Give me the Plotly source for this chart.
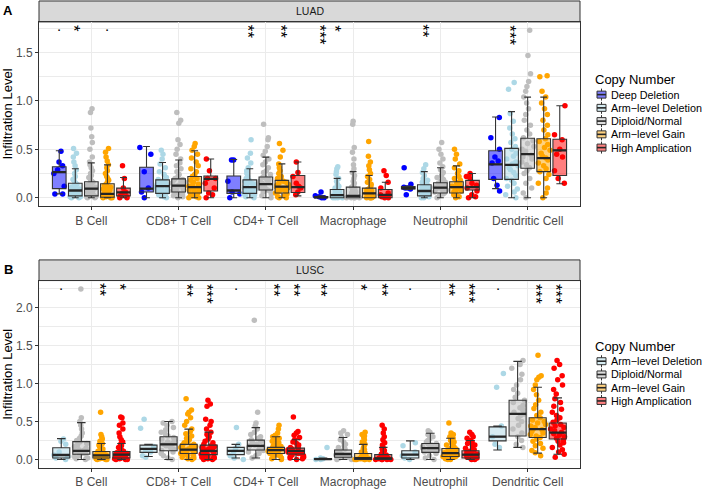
import plotly.graph_objects as go

# ---------------- data ----------------
CELLS = ["B Cell", "CD8+ T Cell", "CD4+ T Cell", "Macrophage", "Neutrophil", "Dendritic Cell"]
LUAD_GROUPS = ["Deep Deletion", "Arm\u2212level Deletion", "Diploid/Normal", "Arm\u2212level Gain", "High Amplication"]
LUSC_GROUPS = ["Arm\u2212level Deletion", "Diploid/Normal", "Arm\u2212level Gain", "High Amplication"]
GROUP_COLORS = {"Deep Deletion": "#0000FF", "Arm\u2212level Deletion": "#ADD8E6",
                "Diploid/Normal": "#BEBEBE", "Arm\u2212level Gain": "#FFA500",
                "High Amplication": "#FF0000"}

# box statistics per cell: (lower whisker, q1, median, q3, upper whisker)
LUAD_DEEP_BOX = [(.04, .095, .265, .32, .485), (0, .06, .095, .315, .53), (0, .045, .075, .225, .395),
                 (0, 0, .005, .012, .02), (.085, .09, .10, .115, .12), (.095, .19, .345, .485, .835)]
LUAD_ARMDEL_BOX = [(0, .02, .075, .15, .30), (0, .045, .12, .185, .365), (0, .045, .11, .185, .30),
                   (0, 0, .027, .085, .20), (0, .02, .07, .135, .27), (0, .19, .34, .51, .89)]
LUAD_DIPLOID_BOX = [(0, .02, .095, .165, .36), (0, .06, .125, .195, .39), (0, .08, .14, .215, .42),
                    (0, 0, .02, .11, .27), (0, .05, .105, .155, .31), (0, .305, .45, .615, 1.04)]
LUAD_GAIN_BOX = [(0, .005, .04, .145, .34), (0, .05, .11, .22, .485), (0, .05, .115, .18, .35),
                 (0, 0, .045, .10, .23), (0, .05, .11, .165, .33), (0, .27, .41, .61, 1.04)]
LUAD_HIGH_BOX = [(0, .02, .055, .10, .21), (0, .07, .195, .225, .40), (.02, .055, .11, .23, .37),
                 (0, 0, .03, .085, .16), (0, .08, .11, .18, .25), (.145, .23, .49, .605, .95)]

LUSC_ARMDEL_BOX = [(0, .02, .06, .155, .275), (.04, .095, .14, .19, .20), (.02, .065, .115, .16, .20),
                   (0, 0, .005, .012, .02), (0, .02, .065, .115, .245), (.125, .245, .30, .43, .44)]
LUSC_DIPLOID_BOX = [(0, .07, .115, .235, .485), (0, .115, .20, .30, .50), (.02, .125, .18, .255, .42),
                    (0, .03, .073, .125, .29), (0, .095, .15, .21, .345), (.16, .31, .60, .78, 1.29)]
LUSC_GAIN_BOX = [(0, .02, .055, .105, .21), (0, .08, .13, .20, .40), (0, .08, .125, .16, .30),
                 (0, 0, .02, .08, .20), (0, .04, .085, .145, .28), (.085, .29, .40, .55, .95)]
LUSC_HIGH_BOX = [(0, .02, .065, .105, .21), (0, .065, .115, .19, .36), (0, .073, .115, .15, .26),
                 (0, 0, .015, .065, .16), (0, .02, .065, .115, .25), (.07, .27, .355, .48, .81)]

# sample points per cell
LUAD_DEEP_PTS = [
    [0.04, 0.04, 0.12, 0.25, 0.29, 0.33, 0.37, 0.48],
    [0.0, 0.06, 0.1, 0.27, 0.45, 0.52],
    [0.0, 0.04, 0.06, 0.17, 0.39, 0.39],
    [0.0, 0.0, 0.01, 0.02, 0.06],
    [0.03, 0.09, 0.10, 0.10, 0.11, 0.14, 0.31],
    [0.07, 0.13, 0.2, 0.36, 0.38, 0.42, 0.5, 0.62, 0.83]]
LUAD_ARMDEL_PTS = [
    [0.0, 0.0, 0.01, 0.01, 0.02, 0.02, 0.03, 0.03, 0.04, 0.05, 0.05, 0.06, 0.07, 0.07, 0.08, 0.09, 0.1, 0.11,
     0.12, 0.13, 0.14, 0.15, 0.17, 0.19, 0.22, 0.25, 0.29, 0.33, 0.37, 0.42, 0.46, 0.51],
    [0.0, 0.01, 0.02, 0.03, 0.04, 0.05, 0.06, 0.07, 0.08, 0.09, 0.1, 0.11, 0.12, 0.12, 0.13, 0.14, 0.15, 0.16,
     0.17, 0.18, 0.19, 0.21, 0.24, 0.27, 0.31, 0.35, 0.4, 0.45, 0.49],
    [0.0, 0.01, 0.02, 0.03, 0.04, 0.05, 0.06, 0.07, 0.08, 0.09, 0.1, 0.11, 0.11, 0.12, 0.13, 0.14, 0.15, 0.16,
     0.17, 0.18, 0.2, 0.22, 0.25, 0.28, 0.31, 0.36, 0.41, 0.46, 0.6],
    [0.0, 0.0, 0.0, 0.0, 0.01, 0.01, 0.01, 0.02, 0.02, 0.03, 0.03, 0.04, 0.05, 0.06, 0.07, 0.08, 0.09, 0.1,
     0.12, 0.14, 0.17, 0.2, 0.24, 0.27, 0.3, 0.32],
    [0.0, 0.0, 0.01, 0.01, 0.02, 0.03, 0.04, 0.05, 0.06, 0.07, 0.07, 0.08, 0.09, 0.1, 0.11, 0.12, 0.13, 0.14,
     0.16, 0.18, 0.2, 0.23, 0.26, 0.3, 0.34],
    [0.0, 0.03, 0.06, 0.09, 0.12, 0.15, 0.18, 0.2, 0.23, 0.26, 0.29, 0.31, 0.33, 0.35, 0.37, 0.4, 0.43, 0.46,
     0.5, 0.53, 0.57, 0.61, 0.66, 0.72, 0.79, 0.87, 1.12, 1.19]]
LUAD_DIPLOID_PTS = [
    [0.0, 0.0, 0.01, 0.01, 0.02, 0.02, 0.03, 0.04, 0.05, 0.06, 0.07, 0.08, 0.09, 0.1, 0.1, 0.11, 0.12, 0.13,
     0.14, 0.15, 0.16, 0.17, 0.19, 0.21, 0.23, 0.25, 0.28, 0.31, 0.34, 0.37, 0.42, 0.5, 0.57, 0.63, 0.72, 0.88, 0.92],
    [0.0, 0.01, 0.02, 0.04, 0.05, 0.06, 0.07, 0.08, 0.09, 0.1, 0.11, 0.12, 0.12, 0.13, 0.14, 0.15, 0.16, 0.17,
     0.18, 0.19, 0.2, 0.22, 0.24, 0.27, 0.3, 0.33, 0.36, 0.4, 0.45, 0.5, 0.55, 0.6, 0.77, 0.8, 0.88],
    [0.0, 0.02, 0.04, 0.06, 0.07, 0.08, 0.09, 0.1, 0.11, 0.12, 0.13, 0.14, 0.14, 0.15, 0.16, 0.17, 0.18, 0.19,
     0.2, 0.21, 0.22, 0.24, 0.26, 0.28, 0.31, 0.34, 0.37, 0.4, 0.44, 0.48, 0.53, 0.6, 0.62, 0.76],
    [0.0, 0.0, 0.0, 0.0, 0.0, 0.01, 0.01, 0.01, 0.02, 0.02, 0.03, 0.04, 0.05, 0.06, 0.07, 0.08, 0.09, 0.1,
     0.11, 0.13, 0.15, 0.17, 0.2, 0.23, 0.26, 0.3, 0.34, 0.4, 0.47, 0.52, 0.76, 0.79],
    [0.0, 0.02, 0.04, 0.05, 0.06, 0.07, 0.08, 0.09, 0.1, 0.1, 0.11, 0.12, 0.13, 0.14, 0.15, 0.16, 0.17, 0.19,
     0.21, 0.23, 0.26, 0.29, 0.32, 0.36, 0.4, 0.45, 0.5, 0.57],
    [0.0, 0.05, 0.1, 0.15, 0.2, 0.25, 0.28, 0.31, 0.34, 0.37, 0.4, 0.42, 0.44, 0.46, 0.48, 0.5, 0.53, 0.56,
     0.59, 0.62, 0.66, 0.7, 0.75, 0.8, 0.86, 0.92, 0.98, 1.04, 1.1, 1.15, 1.2, 1.28, 1.47, 1.73]]
LUAD_GAIN_PTS = [
    [0.0, 0.0, 0.0, 0.01, 0.01, 0.02, 0.02, 0.03, 0.04, 0.05, 0.06, 0.07, 0.08, 0.09, 0.1, 0.11, 0.12, 0.13,
     0.14, 0.16, 0.18, 0.2, 0.22, 0.25, 0.28, 0.31, 0.34, 0.38, 0.42, 0.47, 0.51],
    [0.0, 0.0, 0.01, 0.02, 0.03, 0.05, 0.06, 0.07, 0.08, 0.09, 0.1, 0.11, 0.12, 0.13, 0.14, 0.16, 0.18, 0.2,
     0.22, 0.24, 0.27, 0.3, 0.33, 0.37, 0.41, 0.45, 0.49, 0.53, 0.56],
    [0.0, 0.0, 0.01, 0.02, 0.04, 0.05, 0.06, 0.07, 0.08, 0.09, 0.1, 0.11, 0.12, 0.13, 0.14, 0.15, 0.16, 0.17,
     0.18, 0.2, 0.22, 0.25, 0.28, 0.31, 0.35, 0.42, 0.49, 0.56],
    [0.0, 0.0, 0.0, 0.0, 0.01, 0.01, 0.02, 0.03, 0.04, 0.05, 0.06, 0.07, 0.08, 0.09, 0.1, 0.12, 0.14, 0.16,
     0.19, 0.22, 0.25, 0.29, 0.33, 0.37, 0.43, 0.58],
    [0.0, 0.01, 0.03, 0.05, 0.06, 0.07, 0.08, 0.09, 0.1, 0.11, 0.12, 0.13, 0.14, 0.15, 0.16, 0.18, 0.2, 0.22,
     0.25, 0.28, 0.31, 0.35, 0.4, 0.45, 0.5],
    [0.0, 0.05, 0.1, 0.15, 0.2, 0.24, 0.27, 0.3, 0.33, 0.36, 0.39, 0.41, 0.43, 0.46, 0.49, 0.52, 0.55, 0.58,
     0.61, 0.65, 0.7, 0.75, 0.8, 0.86, 0.92, 0.98, 1.04, 1.1, 1.25, 1.26]]
LUAD_HIGH_PTS = [
    [0.0, 0.0, 0.01, 0.02, 0.05, 0.06, 0.1, 0.2, 0.33],
    [0.0, 0.03, 0.05, 0.1, 0.15, 0.2, 0.2, 0.28, 0.4],
    [0.03, 0.06, 0.1, 0.12, 0.15, 0.22, 0.26, 0.37],
    [0.0, 0.0, 0.01, 0.03, 0.05, 0.1, 0.16, 0.23, 0.28],
    [0.0, 0.01, 0.03, 0.07, 0.1, 0.13, 0.15, 0.2, 0.22, 0.25],
    [0.15, 0.2, 0.28, 0.42, 0.45, 0.5, 0.6, 0.65, 0.95]]

LUSC_ARMDEL_PTS = [
    [0.0, 0.02, 0.04, 0.06, 0.1, 0.2, 0.24, 0.27],
    [0.03, 0.05, 0.1, 0.12, 0.17, 0.41, 0.53],
    [0.0, 0.02, 0.05, 0.1, 0.15, 0.2, 0.42],
    [0.0, 0.0, 0.01, 0.02, 0.16],
    [0.0, 0.02, 0.05, 0.1, 0.18, 0.22],
    [0.16, 0.2, 0.3, 0.44, 0.95, 1.13]]
LUSC_DIPLOID_PTS = [
    [0.0, 0.01, 0.02, 0.04, 0.05, 0.07, 0.08, 0.09, 0.1, 0.11, 0.12, 0.13, 0.15, 0.17, 0.19, 0.21, 0.23, 0.25,
     0.28, 0.31, 0.35, 0.4, 0.45, 0.5, 0.55, 2.24],
    [0.0, 0.02, 0.05, 0.08, 0.1, 0.12, 0.14, 0.16, 0.18, 0.2, 0.21, 0.23, 0.25, 0.27, 0.29, 0.31, 0.33, 0.36,
     0.39, 0.42, 0.45, 0.48, 0.5],
    [0.02, 0.05, 0.08, 0.1, 0.12, 0.14, 0.16, 0.17, 0.18, 0.19, 0.2, 0.22, 0.24, 0.26, 0.28, 0.3, 0.33, 0.36,
     0.4, 0.44, 0.48, 0.62, 1.83],
    [0.0, 0.0, 0.01, 0.02, 0.03, 0.04, 0.05, 0.06, 0.07, 0.08, 0.09, 0.1, 0.11, 0.12, 0.14, 0.16, 0.18, 0.2,
     0.23, 0.26, 0.29, 0.33, 0.35, 0.38],
    [0.0, 0.02, 0.05, 0.08, 0.1, 0.11, 0.12, 0.13, 0.14, 0.15, 0.16, 0.17, 0.18, 0.19, 0.2, 0.21, 0.23, 0.25,
     0.27, 0.3, 0.33, 0.36, 0.38],
    [0.16, 0.2, 0.25, 0.3, 0.35, 0.4, 0.45, 0.5, 0.54, 0.58, 0.6, 0.62, 0.65, 0.68, 0.71, 0.75, 0.78, 0.82,
     0.87, 0.92, 0.98, 1.05, 1.12, 1.2, 1.25, 1.3]]
LUSC_GAIN_PTS = [
    [0.0, 0.0, 0.0, 0.01, 0.01, 0.01, 0.02, 0.02, 0.03, 0.03, 0.04, 0.04, 0.05, 0.05, 0.06, 0.06, 0.07, 0.07,
     0.08, 0.08, 0.09, 0.1, 0.1, 0.11, 0.12, 0.13, 0.14, 0.15, 0.17, 0.19, 0.21, 0.24, 0.27, 0.3, 0.33, 0.62],
    [0.0, 0.01, 0.02, 0.03, 0.05, 0.06, 0.07, 0.08, 0.09, 0.1, 0.11, 0.12, 0.12, 0.13, 0.14, 0.15, 0.16, 0.17,
     0.18, 0.19, 0.2, 0.22, 0.24, 0.26, 0.28, 0.31, 0.34, 0.37, 0.4, 0.45, 0.5, 0.55, 0.6, 0.62, 0.65, 0.8],
    [0.0, 0.01, 0.02, 0.04, 0.05, 0.06, 0.07, 0.08, 0.09, 0.1, 0.1, 0.11, 0.11, 0.12, 0.12, 0.13, 0.13, 0.14,
     0.15, 0.15, 0.16, 0.17, 0.18, 0.2, 0.22, 0.24, 0.26, 0.28, 0.3, 0.32, 0.35, 0.4, 0.45],
    [0.0, 0.0, 0.0, 0.0, 0.0, 0.01, 0.01, 0.01, 0.02, 0.02, 0.02, 0.03, 0.03, 0.04, 0.05, 0.06, 0.07, 0.08,
     0.09, 0.1, 0.11, 0.13, 0.15, 0.17, 0.2, 0.23, 0.26, 0.29, 0.31, 0.33, 0.36],
    [0.0, 0.0, 0.01, 0.02, 0.03, 0.04, 0.04, 0.05, 0.06, 0.07, 0.08, 0.08, 0.09, 0.1, 0.11, 0.12, 0.13, 0.14,
     0.15, 0.17, 0.19, 0.21, 0.23, 0.25, 0.28, 0.3, 0.33, 0.35, 0.48],
    [0.05, 0.09, 0.12, 0.15, 0.18, 0.21, 0.24, 0.27, 0.29, 0.31, 0.33, 0.35, 0.37, 0.39, 0.4, 0.42, 0.44, 0.46,
     0.48, 0.5, 0.52, 0.55, 0.58, 0.62, 0.67, 0.72, 0.78, 0.85, 0.92, 0.98, 1.05, 1.08, 1.1, 1.37]]
LUSC_HIGH_PTS = [
    [0.0, 0.0, 0.0, 0.01, 0.01, 0.02, 0.02, 0.03, 0.03, 0.04, 0.05, 0.05, 0.06, 0.06, 0.07, 0.08, 0.08, 0.09,
     0.1, 0.1, 0.11, 0.12, 0.14, 0.16, 0.18, 0.2, 0.23, 0.26, 0.3, 0.35, 0.4, 0.45, 0.48, 0.55, 0.56],
    [0.0, 0.0, 0.01, 0.02, 0.03, 0.04, 0.05, 0.06, 0.07, 0.08, 0.09, 0.1, 0.11, 0.12, 0.13, 0.14, 0.15, 0.16,
     0.17, 0.18, 0.2, 0.22, 0.24, 0.27, 0.3, 0.33, 0.36, 0.4, 0.45, 0.5, 0.53, 0.7, 0.73, 0.78],
    [0.0, 0.01, 0.02, 0.03, 0.04, 0.05, 0.06, 0.07, 0.08, 0.09, 0.1, 0.1, 0.11, 0.12, 0.12, 0.13, 0.14, 0.15,
     0.16, 0.17, 0.19, 0.21, 0.23, 0.26, 0.29, 0.32, 0.35, 0.37, 0.56],
    [0.0, 0.0, 0.0, 0.0, 0.0, 0.01, 0.01, 0.01, 0.02, 0.02, 0.03, 0.04, 0.05, 0.06, 0.07, 0.08, 0.1, 0.12,
     0.14, 0.16, 0.19, 0.22, 0.26, 0.3, 0.35, 0.4, 0.45],
    [0.0, 0.0, 0.01, 0.01, 0.02, 0.03, 0.04, 0.05, 0.05, 0.06, 0.07, 0.08, 0.09, 0.1, 0.11, 0.12, 0.13, 0.15,
     0.17, 0.19, 0.21, 0.23, 0.25, 0.28, 0.3, 0.33, 0.36],
    [0.03, 0.07, 0.1, 0.13, 0.16, 0.19, 0.22, 0.24, 0.26, 0.28, 0.3, 0.32, 0.34, 0.36, 0.38, 0.4, 0.42, 0.44,
     0.46, 0.49, 0.52, 0.55, 0.58, 0.62, 0.66, 0.7, 0.75, 0.8, 0.86, 0.92, 0.98, 1.05, 1.1, 1.2, 1.25, 1.3]]

# significance labels per cell (one per copy-number group, Diploid = reference)
LUAD_SIG = [[".", "*", "", ".", ""], ["", "", "", "", ""], ["", "**", "", "**", ""],
            ["***", "*", "", "", ""], ["", "**", "", "", ""], ["", "***", "", "", ""]]
LUSC_SIG = [[".", "", "**", "*"], ["", "", "**", "***"], [".", "", "**", "**"],
            ["**", "", "*", "**"], [".", "", "**", "***"], [".", "", "***", "***"]]

# ---------------- layout geometry (pixels) ----------------
W, H = 702, 489
PX0, PX1 = 39, 580
FONT = "Liberation Sans, Arial, Helvetica, sans-serif"
BOXGAP, BOXGROUPGAP = 0.08, 0.15
STAR_SIZE = 17
STAR_STEP = 0.389 * STAR_SIZE  # advance width of '*'


def fx(p):
    return p / W


def fy(p):
    return 1 - p / H


def rgba(hexc, a):
    h = hexc.lstrip("#")
    return "rgba(%d,%d,%d,%.2f)" % (int(h[0:2], 16), int(h[2:4], 16), int(h[4:6], 16), a)


def mix_white(hexc, a):
    h = hexc.lstrip("#")
    c = [int(h[i:i + 2], 16) for i in (0, 2, 4)]
    return "rgb(%d,%d,%d)" % tuple(round(255 * (1 - a) + v * a) for v in c)


def paper_text(x, y, text, size, **kw):
    d = dict(x=fx(x), y=fy(y), xref="paper", yref="paper", text=text, showarrow=False,
             xanchor="center", yanchor="middle", font=dict(size=size, color="black"))
    d.update(kw)
    return d


PANELS = [
    dict(label="A", title="LUAD", groups=LUAD_GROUPS,
         pts=[LUAD_DEEP_PTS, LUAD_ARMDEL_PTS, LUAD_DIPLOID_PTS, LUAD_GAIN_PTS, LUAD_HIGH_PTS],
         boxes=[LUAD_DEEP_BOX, LUAD_ARMDEL_BOX, LUAD_DIPLOID_BOX, LUAD_GAIN_BOX, LUAD_HIGH_BOX],
         sig=LUAD_SIG, xa="x", ya="y", strip=(1, 22), plot=(22, 207),
         leg_title=80, leg_first=95),
    dict(label="B", title="LUSC", groups=LUSC_GROUPS,
         pts=[LUSC_ARMDEL_PTS, LUSC_DIPLOID_PTS, LUSC_GAIN_PTS, LUSC_HIGH_PTS],
         boxes=[LUSC_ARMDEL_BOX, LUSC_DIPLOID_BOX, LUSC_GAIN_BOX, LUSC_HIGH_BOX],
         sig=LUSC_SIG, xa="x2", ya="y2", strip=(261, 281.7), plot=(281.7, 470),
         leg_title=348.3, leg_first=362.7),
]

fig = go.Figure()
shapes = []
annotations = []
layout_axes = {}

for pi, P in enumerate(PANELS):
    ngroups = len(P["groups"])
    # jittered sample points (drawn first)
    for gi, g in enumerate(P["groups"]):
        xs, ys = [], []
        for ci, cell in enumerate(CELLS):
            for v in P["pts"][gi][ci]:
                xs.append(cell)
                ys.append(v)
        fig.add_trace(go.Box(
            x=xs, y=ys, boxpoints="all", jitter=1, pointpos=0,
            marker=dict(color=GROUP_COLORS[g], size=5.5, line=dict(width=0)),
            line=dict(width=0, color="rgba(0,0,0,0)"), fillcolor="rgba(0,0,0,0)",
            offsetgroup=g, xaxis=P["xa"], yaxis=P["ya"], showlegend=False, hoverinfo="skip"))
    # boxes from summary statistics
    for gi, g in enumerate(P["groups"]):
        b = P["boxes"][gi]
        fig.add_trace(go.Box(
            x=CELLS, lowerfence=[s[0] for s in b], q1=[s[1] for s in b], median=[s[2] for s in b],
            q3=[s[3] for s in b], upperfence=[s[4] for s in b], boxpoints=False,
            fillcolor=rgba(GROUP_COLORS[g], 0.5), line=dict(color="#333333", width=1.1),
            offsetgroup=g, xaxis=P["xa"], yaxis=P["ya"], showlegend=False, hoverinfo="skip"))
    # thick median bars
    for gi, g in enumerate(P["groups"]):
        med = [s[2] for s in P["boxes"][gi]]
        fig.add_trace(go.Box(
            x=CELLS, lowerfence=med, q1=med, median=med, q3=med, upperfence=med, boxpoints=False,
            fillcolor="rgba(0,0,0,0)", line=dict(color="#262626", width=2.3),
            offsetgroup=g, xaxis=P["xa"], yaxis=P["ya"], showlegend=False, hoverinfo="skip"))

    # axis ranges from data (ggplot 5% expansion)
    allv = [v for grp in P["pts"] for cell in grp for v in cell]
    vmax, vmin = max(allv), min(allv)
    pad = 0.05 * (vmax - vmin)
    y_top, y_bot = P["plot"]
    sfx = "" if pi == 0 else str(pi + 1)
    layout_axes["xaxis" + sfx] = dict(
        domain=[fx(PX0), fx(PX1)], anchor="y" + sfx, type="category", categoryorder="array",
        categoryarray=CELLS, range=[-0.6, len(CELLS) - 0.4], showgrid=True, gridcolor="#EBEBEB",
        gridwidth=1, ticks="outside", ticklen=3, tickwidth=1, tickcolor="#333333",
        showline=True, mirror=True, linecolor="#333333", linewidth=1, zeroline=False,
        tickfont=dict(size=12, color="#4D4D4D"))
    layout_axes["yaxis" + sfx] = dict(
        domain=[fy(y_bot), fy(y_top)], anchor="x" + sfx, range=[vmin - pad, vmax + pad],
        tick0=0, dtick=0.5, tickformat=".1f", showgrid=True, gridcolor="#EBEBEB", gridwidth=1,
        minor=dict(dtick=0.25, showgrid=True, gridcolor="#EBEBEB", gridwidth=0.5),
        ticks="outside", ticklen=3, tickwidth=1, tickcolor="#333333",
        showline=True, mirror=True, linecolor="#333333", linewidth=1, zeroline=False,
        tickfont=dict(size=12, color="#4D4D4D"))

    # significance marks (stars stacked vertically, drawn as one rotated string)
    slot = (1 - BOXGAP) / ngroups
    for ci in range(len(CELLS)):
        for gi in range(ngroups):
            lab = P["sig"][ci][gi]
            if not lab:
                continue
            xpos = ci + (gi - (ngroups - 1) / 2) * slot
            if lab == ".":
                annotations.append(dict(x=xpos, y=vmax, xref=P["xa"], yref=P["ya"], text=".",
                                        showarrow=False, xanchor="center", yanchor="middle", yshift=5,
                                        font=dict(size=15, color="black")))
            else:
                k = len(lab)
                annotations.append(dict(x=xpos, y=vmax, xref=P["xa"], yref=P["ya"], text=lab,
                                        showarrow=False, xanchor="center", yanchor="middle",
                                        textangle=90, xshift=-2,
                                        yshift=2 - (k - 1) * STAR_STEP / 2,
                                        font=dict(size=STAR_SIZE, color="black")))

    # facet strip
    s0, s1 = P["strip"]
    shapes.append(dict(type="rect", xref="paper", yref="paper", x0=fx(PX0), x1=fx(PX1),
                       y0=fy(s1), y1=fy(s0), fillcolor="#D9D9D9",
                       line=dict(color="#333333", width=1), layer="below"))
    annotations.append(paper_text((PX0 + PX1) / 2, (s0 + s1) / 2, P["title"], 10.5,
                                  font=dict(size=10.5, color="#1A1A1A")))
    # panel letter
    annotations.append(paper_text(8, s0 + 10, "<b>%s</b>" % P["label"], 13))
    # y-axis title
    annotations.append(paper_text(7.5, (y_top + y_bot) / 2, "Infiltration Level", 13, textangle=-90))

    # legend
    annotations.append(paper_text(593, P["leg_title"], "Copy Number", 13, xanchor="left"))
    for gi, g in enumerate(P["groups"]):
        cy = P["leg_first"] + gi * 13.3
        shapes.append(dict(type="line", xref="paper", yref="paper", x0=fx(601.5), x1=fx(601.5),
                           y0=fy(cy + 6), y1=fy(cy - 6), line=dict(color="#333333", width=1)))
        shapes.append(dict(type="rect", xref="paper", yref="paper", x0=fx(597), x1=fx(606),
                           y0=fy(cy + 3.5), y1=fy(cy - 3.5), fillcolor=mix_white(GROUP_COLORS[g], 0.5),
                           line=dict(color="#333333", width=1)))
        shapes.append(dict(type="line", xref="paper", yref="paper", x0=fx(597), x1=fx(606),
                           y0=fy(cy), y1=fy(cy), line=dict(color="#262626", width=1.6)))
        annotations.append(paper_text(609, cy, g, 10.8, xanchor="left"))

fig.update_layout(
    width=W, height=H, margin=dict(l=0, r=0, t=0, b=0), autosize=False,
    paper_bgcolor="white", plot_bgcolor="white", showlegend=False,
    boxmode="group", boxgap=BOXGAP, boxgroupgap=BOXGROUPGAP,
    font=dict(family=FONT, color="black"),
    shapes=shapes, annotations=annotations, **layout_axes)

fig.write_html("out.html", config={"displayModeBar": False},
               post_script="document.body.style.margin='0px';")
